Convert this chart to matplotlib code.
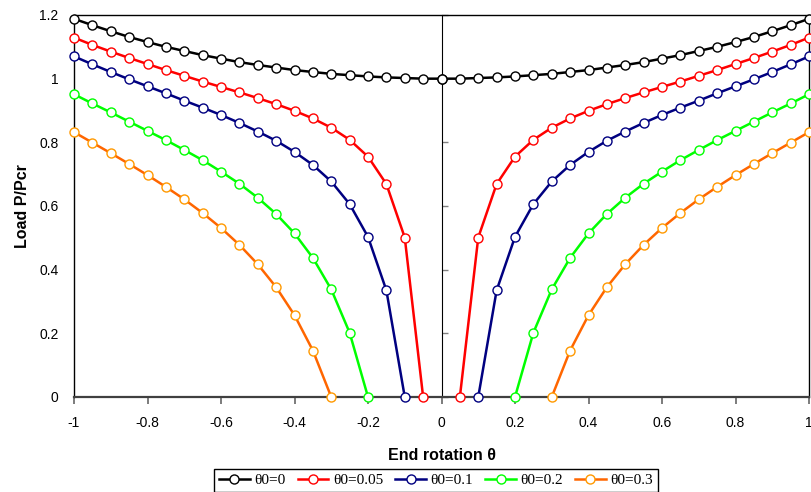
import matplotlib
matplotlib.use("Agg")
import matplotlib.pyplot as plt
from matplotlib.lines import Line2D

# end rotation theta (right branch); left branch is the mirror image
THETA = [0.00, 0.05, 0.10, 0.15, 0.20, 0.25, 0.30, 0.35, 0.40, 0.45, 0.50,
         0.55, 0.60, 0.65, 0.70, 0.75, 0.80, 0.85, 0.90, 0.95, 1.00]

# load P/Pcr for each imperfection theta0
P_T0_000 = [1.000, 1.000, 1.002, 1.004, 1.007, 1.011, 1.015, 1.021, 1.027, 1.035, 1.043,
            1.052, 1.063, 1.074, 1.087, 1.100, 1.115, 1.131, 1.149, 1.168, 1.188]
P_T0_005 = [0.000, 0.501, 0.669, 0.755, 0.808, 0.846, 0.875, 0.899, 0.920, 0.939,
            0.957, 0.974, 0.991, 1.009, 1.027, 1.046, 1.065, 1.085, 1.106, 1.129]
P_T0_010 = [0.000, 0.335, 0.503, 0.606, 0.677, 0.729, 0.770, 0.805, 0.834,
            0.861, 0.886, 0.909, 0.931, 0.954, 0.976, 0.998, 1.021, 1.045, 1.070]
P_T0_020 = [0.000, 0.202, 0.338, 0.437, 0.514, 0.575, 0.626, 0.670, 0.708,
            0.744, 0.776, 0.807, 0.836, 0.865, 0.894, 0.922, 0.951]
P_T0_030 = [0.000, 0.146, 0.257, 0.345, 0.417, 0.478, 0.531, 0.578, 0.621,
            0.660, 0.697, 0.732, 0.766, 0.799, 0.832]

SERIES = [
    ("θ0=0", P_T0_000, "black", "black"),
    ("θ0=0.05", P_T0_005, "#ff0000", "#ff0000"),
    ("θ0=0.1", P_T0_010, "#000080", "#000080"),
    ("θ0=0.2", P_T0_020, "#00ff00", "#00ff00"),
    ("θ0=0.3", P_T0_030, "#ff6600", "#ff9900"),
]

X_TICKS = [-1, -0.8, -0.6, -0.4, -0.2, 0, 0.2, 0.4, 0.6, 0.8, 1]
X_TICKLABELS = ["-1", "-0.8", "-0.6", "-0.4", "-0.2", "0", "0.2", "0.4", "0.6", "0.8", "1"]
Y_TICKS = [0, 0.2, 0.4, 0.6, 0.8, 1, 1.2]
Y_TICKLABELS = ["0", "0.2", "0.4", "0.6", "0.8", "1", "1.2"]

plt.rcParams["font.family"] = ["Liberation Sans", "DejaVu Sans"]

fig = plt.figure(figsize=(8.11, 4.92), dpi=100)
ax = fig.add_axes([74 / 811, 1 - 397 / 492, (809 - 74) / 811, (397 - 15) / 492])

handles = []
for label, p, lc, mc in SERIES:
    th = THETA[len(THETA) - len(p):]
    for sign in (-1, 1):
        ax.plot([sign * t for t in th], p, color=lc, lw=1.8, marker="o", ms=6.5,
                mfc="white", mec=mc, mew=1.0, clip_on=False, zorder=3)
    handles.append(Line2D([0], [0], color=lc, lw=1.8, marker="o", ms=6.5,
                          mfc="white", mec=mc, mew=1.0, label=label))

ax.set_xlim(-1, 1)
ax.set_ylim(0, 1.2)
ax.set_xticks(X_TICKS)
ax.set_xticklabels(X_TICKLABELS)
ax.set_yticks(Y_TICKS)
ax.set_yticklabels(Y_TICKLABELS)
ax.tick_params(axis="x", direction="out", length=5, width=1.2, color="0.4", labelsize=10, pad=9)
ax.tick_params(axis="y", length=0, labelsize=10, pad=11)

for side in ["left", "top", "right"]:
    ax.spines[side].set_color("black")
    ax.spines[side].set_linewidth(1.0)
ax.spines["bottom"].set_color("0.25")
ax.spines["bottom"].set_linewidth(1.6)

# value axis crossing at theta = 0
ax2 = ax.secondary_yaxis(0.5)
ax2.set_yticks(Y_TICKS)
ax2.set_yticklabels([])
ax2.spines["left"].set_color("0.5")
ax2.spines["left"].set_linewidth(1.6)
ax2.tick_params(length=4, width=1.0, color="0.5")

ax.set_xlabel("End rotation θ", fontsize=11.5, fontweight="bold", labelpad=13)
ax.set_ylabel("Load P/Pcr", fontsize=11.5, fontweight="bold", labelpad=7)

# title sits mostly above the visible area, as in the original crop
fig.text(0.54, 1 + 3 / 492, "Imperfect rigid bar - spring model, large rotations,",
         ha="center", va="baseline", fontsize=11.5, fontweight="bold")

fig.legend(handles=handles, loc="upper center", bbox_to_anchor=(436 / 811, 1 - 469 / 492),
           ncol=5, frameon=True, fancybox=False, edgecolor="black", framealpha=1,
           prop={"family": "Liberation Serif", "size": 11}, handlelength=2.0,
           handletextpad=0.3, columnspacing=0.8, borderpad=0.3, borderaxespad=0)

fig.savefig("out.png", dpi=100)
